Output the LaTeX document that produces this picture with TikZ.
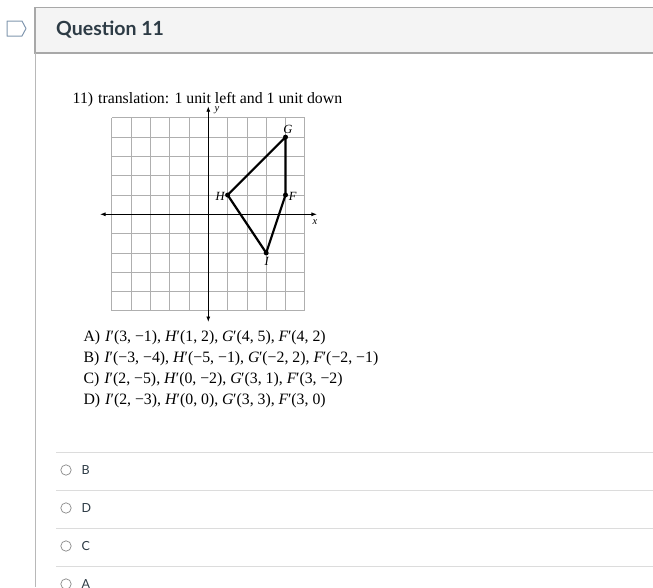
\documentclass[tikz,border=0pt]{standalone}
\usepackage{fontspec}
\setmainfont{Liberation Serif}
\newfontfamily\latofont{Lato}
\usetikzlibrary{arrows.meta}
\definecolor{hdrfill}{HTML}{F4F4F4}
\definecolor{hdrline}{HTML}{A8A8A8}
\definecolor{panelline}{HTML}{B8B8B8}
\definecolor{sepline}{HTML}{DCDCDC}
\definecolor{canvastext}{HTML}{2D3B45}
\definecolor{iconc}{HTML}{8197AF}
\definecolor{gridc}{HTML}{AFAFAF}
\definecolor{radioc}{HTML}{8A8A8A}
\tikzset{
  gridline/.style={draw=gridc, line width=0.8pt},
  axisline/.style={draw=black, line width=0.9pt, {Latex[length=5.5pt,width=4pt]}-{Latex[length=5.5pt,width=4pt]}},
  triline/.style={draw=black, line width=2.2pt, line join=round},
  ptlabel/.style={font=\fontsize{12.5}{12.5}\selectfont\itshape, inner sep=0pt},
  axlabel/.style={font=\fontsize{10.5}{10.5}\selectfont\itshape, inner sep=0pt},
  qtext/.style={font=\fontsize{15.8}{15.8}\selectfont, anchor=base west, inner sep=0pt},
  radiobtn/.style={circle, draw=radioc, line width=0.7pt, minimum size=10.4pt, inner sep=0pt},
  radiolbl/.style={font=\latofont\fontsize{12.5}{12.5}\selectfont, text=canvastext, anchor=west, inner sep=0pt},
  sep/.style={draw=sepline, line width=1pt}
}
\newcommand{\pr}[1]{\textit{#1}\kern-0.5pt′}
\begin{document}
\begin{tikzpicture}[x=1pt,y=-1pt]
\useasboundingbox (0,0) rectangle (653,587);
\fill[white] (0,0) rectangle (653,587);
% header
\fill[hdrfill] (35,7.5) rectangle (653,53);
\draw[hdrline, line width=1.2pt] (653,7.5) -- (35,7.5) -- (35,53) -- (653,53);
\draw[panelline, line width=1pt] (35,53) -- (35,587);
\node[font=\latofont\bfseries\fontsize{19.5}{19.5}\selectfont, text=canvastext, anchor=base west, inner sep=0pt] (title) at (56,35) {Question 11};
\draw[iconc, line width=1pt, line join=round] (7,21) -- (22,21) -- (26,28.5) -- (22,36) -- (7,36) -- cycle;
% question text
\node[qtext] (q) at (72.5,103.5) {11)\hspace{5pt}translation: 1 unit left and 1 unit down};
% graph
\begin{scope}[shift={(208.3,214.3)}, x=19.3pt, y=19.3pt]
  \foreach \k in {-5,...,5} {
    \draw[gridline] (\k,-5) -- (\k,5);
    \draw[gridline] (-5,\k) -- (5,\k);
  }
  \coordinate (xl) at (-5.61,0);
  \coordinate (xr) at (5.63,0);
  \coordinate (yt) at (0,5.6);
  \coordinate (yb) at (0,-5.58);
  \draw[axisline] (xl) -- (xr);
  \draw[axisline] (yb) -- (yt);
  \node[axlabel] (xlab) at (5.52,-0.42) {x};
  \node[axlabel] (ylab) at (0.45,5.4) {y};
  \coordinate (G) at (4,4);
  \coordinate (F) at (4,1);
  \coordinate (I) at (3,-2);
  \coordinate (H) at (1,1);
  \draw[triline] (G) -- (F) -- (I) -- (H) -- cycle;
  \foreach \p in {G,F,I,H} \fill (\p) circle (2.5pt);
  \node[ptlabel] (Gl) at (4.13,4.42) {G};
  \node[ptlabel] (Hl) at (0.61,0.95) {H};
  \node[ptlabel] (Fl) at (4.37,0.93) {F};
  \node[ptlabel] (Il) at (3.03,-2.42) {I};
\end{scope}
% answers
\node[qtext] (ansA) at (83.3,341.5) {A)\hspace{5pt}\pr{I}(3, −1), \pr{H}(1, 2), \pr{G}(4, 5), \pr{F}(4, 2)};
\node[qtext] (ansB) at (83.3,362.5) {B)\hspace{5pt}\pr{I}(−3, −4), \pr{H}(−5, −1), \pr{G}(−2, 2), \pr{F}(−2, −1)};
\node[qtext] (ansC) at (83.3,383.3) {C)\hspace{5pt}\pr{I}(2, −5), \pr{H}(0, −2), \pr{G}(3, 1), \pr{F}(3, −2)};
\node[qtext] (ansD) at (83.3,404) {D)\hspace{5pt}\pr{I}(2, −3), \pr{H}(0, 0), \pr{G}(3, 3), \pr{F}(3, 0)};
% options
\draw[sep] (56,452.7) -- (653,452.7);
\draw[sep] (56,490.7) -- (653,490.7);
\draw[sep] (56,528.7) -- (653,528.7);
\draw[sep] (56,566.7) -- (653,566.7);
\node[radiobtn] (r1) at (66,470) {};
\node[radiobtn] (r2) at (66,508) {};
\node[radiobtn] (r3) at (66,546) {};
\node[radiobtn] (r4) at (66,584) {};
\node[radiolbl] (l1) at (81.5,470) {B};
\node[radiolbl] (l2) at (81.5,508) {D};
\node[radiolbl] (l3) at (81.5,546) {C};
\node[radiolbl] (l4) at (81.5,584) {A};
\end{tikzpicture}
\end{document}
